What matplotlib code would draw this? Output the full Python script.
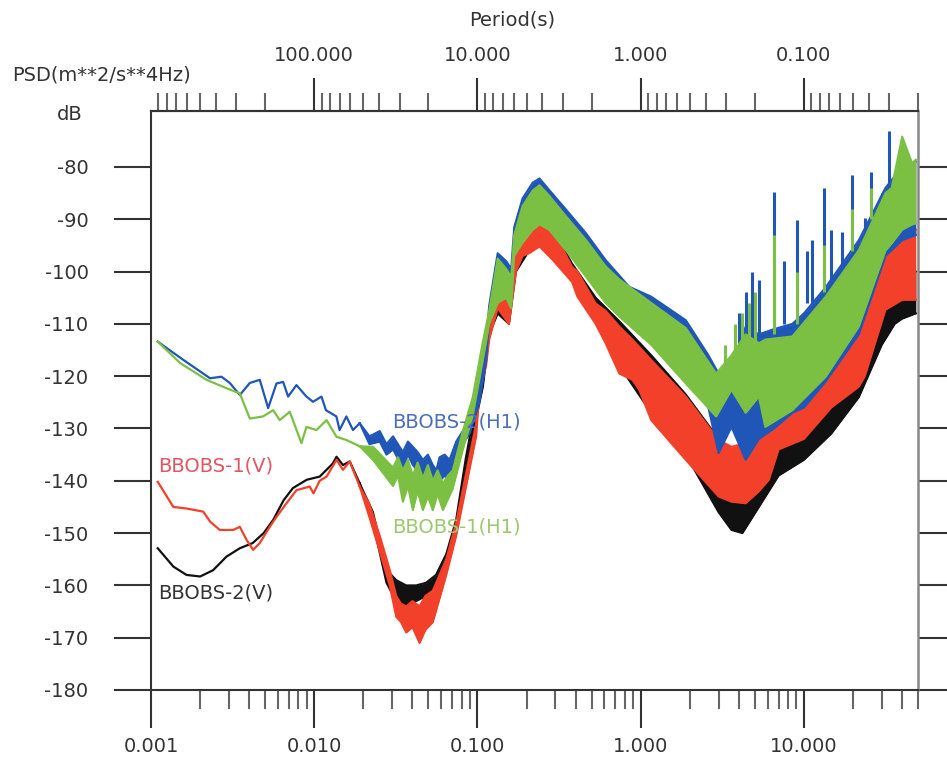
import numpy as np
import matplotlib.pyplot as plt
from matplotlib.ticker import LogLocator, NullFormatter, FixedLocator, FixedFormatter

# BBOBS-2(V)  (black)
v2_line_f = [0.0011, 0.00137, 0.00165, 0.0020, 0.0024, 0.0029, 0.0035, 0.0042, 0.0049, 0.0056,
             0.0065, 0.0074, 0.0090, 0.0108, 0.0130, 0.0137, 0.0150, 0.0165, 0.0190]
v2_line_db = [-152.9, -156.4, -158.0, -158.3, -157.1, -154.5, -152.9, -151.9, -150.0, -147.5,
              -143.7, -141.4, -139.8, -139.2, -136.7, -135.4, -137.0, -136.3, -140.5]
v2_band_f = [0.0190, 0.0229, 0.0277, 0.0318, 0.0366, 0.0421, 0.0484, 0.0557, 0.0644, 0.074,
             0.085, 0.093, 0.108, 0.118, 0.133, 0.156, 0.172, 0.207, 0.24, 0.29,
             0.38, 0.53, 0.74, 1.16, 1.89, 3.0, 3.6, 4.2, 5.3, 7.0,
             10, 14.7, 21.7, 30, 36, 40, 48.5]
v2_band_lo = [-140.5, -148, -159.5, -163, -164, -163, -162, -160, -156, -150,
              -138, -131.5, -122, -112, -108, -110, -100, -96, -94.5, -96.5,
              -101, -109, -118, -127, -135, -146, -149.4, -150, -145, -139,
              -136, -131, -124, -114, -110, -109, -108]
v2_band_hi = [-140.5, -146, -157, -159, -160, -160, -159.5, -158, -154, -147.5,
              -135.5, -129, -119.5, -110, -104, -108, -95, -91, -90, -92,
              -98.5, -105, -109.5, -116, -123.5, -132, -134, -134, -132, -128,
              -123, -117, -110, -100, -99, -103, -100]

# BBOBS-1(V)  (red)
v1_line_f = [0.0011, 0.00137, 0.00165, 0.00209, 0.0023, 0.00264, 0.00319, 0.0035, 0.00385, 0.00422,
             0.00464, 0.00534, 0.00587, 0.00676, 0.00778, 0.00938, 0.0099, 0.0108, 0.0119, 0.0137,
             0.0150, 0.0165, 0.0190]
v1_line_db = [-140.2, -145.0, -145.3, -145.9, -147.8, -149.4, -149.4, -148.8, -151.3, -153.2,
              -151.9, -148.8, -146.9, -144.3, -141.8, -141.1, -142.4, -140.0, -139.2, -136.0,
              -137.9, -136.3, -141.1]
v1_band_f = [0.0190, 0.0218, 0.0252, 0.029, 0.0318, 0.034, 0.0366, 0.040, 0.0442, 0.048,
             0.0533, 0.0644, 0.0741, 0.0853, 0.0982, 0.1028, 0.113, 0.118, 0.133, 0.15,
             0.156, 0.172, 0.189, 0.207, 0.24, 0.29, 0.38, 0.41, 0.53, 0.61,
             0.74, 0.89, 0.98, 1.16, 1.89, 3.0, 3.6, 4.4, 5.3, 6.1,
             7.0, 10, 14.7, 21.7, 23.6, 31.6, 40, 48.5]
v1_band_lo = [-141.1, -147, -153.5, -160, -166, -167, -169, -168, -171, -168.5,
              -167, -158, -150.5, -141, -131.5, -123, -118, -113, -107, -109.3,
              -110, -100, -97, -96.5, -95.2, -97.8, -102, -104.8, -110, -113.7,
              -119.5, -120.7, -122.6, -128.4, -136, -143, -144, -144.3, -142, -139.8,
              -134, -132, -126, -122, -120, -107.3, -105.4, -105.4]
v1_band_hi = [-141.1, -144.5, -150.5, -157, -162, -163.5, -164, -163, -164, -162,
              -161, -155, -148, -138.5, -129, -119.5, -114, -110.5, -104.1, -105,
              -108, -94.6, -92, -90.8, -89.8, -92, -99.1, -100, -106.1, -107.5,
              -110.5, -113, -114.4, -116.9, -123.9, -132.2, -133.5, -132.8, -130, -128,
              -127, -123.3, -116.9, -108, -106.7, -96.5, -93, -92]

# BBOBS-2(H1)  (blue)
h2_line_f = [0.0011, 0.00158, 0.0023, 0.0027, 0.00304, 0.0035, 0.00403, 0.00464, 0.00522, 0.00587,
             0.00645, 0.00692, 0.00778, 0.00896, 0.00984, 0.01107, 0.0118, 0.01367, 0.0143, 0.01574,
             0.01727, 0.019]
h2_line_db = [-113.4, -116.9, -120.4, -120.1, -121.3, -123.6, -121.3, -120.7, -126.1, -121.4,
              -121.1, -123.9, -121.7, -123.9, -124.9, -123.9, -126.5, -127.7, -130.3, -127.7,
              -130.3, -129.0]
h2_band_f = [0.019, 0.0218, 0.0252, 0.0277, 0.0304, 0.0349, 0.0375, 0.0402, 0.043, 0.0463,
             0.0497, 0.0533, 0.056, 0.0586, 0.063, 0.0674, 0.0741, 0.0893, 0.1028, 0.113,
             0.118, 0.133, 0.15, 0.161, 0.168, 0.189, 0.218, 0.24, 0.275, 0.35,
             0.463, 0.61, 0.85, 1.16, 1.89, 2.6, 3.0, 3.6, 4.4, 5.3,
             6.56, 8.5, 10, 13.6, 21.7, 31.6, 40, 48.5]
h2_band_lo = [-129.0, -133, -132.5, -135, -134, -137.5, -135, -137, -138, -140,
              -138.5, -141, -141.5, -140, -139, -140, -135, -131, -125, -117,
              -109, -104, -104, -106, -96, -93, -91, -90, -91, -95,
              -100, -105, -106, -112, -119, -126, -134.7, -129.7, -136, -132,
              -130, -127, -126, -121, -112, -97, -94, -93]
h2_band_hi = [-129.0, -131.5, -130.5, -133, -131.5, -134.5, -132.5, -133.5, -134.5, -136,
              -135, -137, -138, -135.5, -135, -136, -132.5, -128.5, -122.5, -113.5,
              -106.5, -96.5, -98, -99.5, -91.5, -86, -83, -82.2, -84.4, -88.2,
              -92.7, -97.8, -102.9, -104.8, -109.3, -116, -119.5, -119, -110.5, -112,
              -111, -110, -108, -103, -94, -84, -80, -79]
h2_spike_f = [4.0, 4.4, 4.8, 5.3, 6.56, 7.5, 9.1, 10.5, 11.2, 13.3, 14.7, 17.0, 19.8, 23.6, 25.8, 29.9, 33.1]
h2_spike_lo = [-114, -112, -112, -112, -110, -110, -108, -106, -106, -104, -102, -100, -98, -94, -92, -88, -86]
h2_spike_hi = [-108, -104, -100, -101.6, -84.7, -98, -90.1, -96, -93.9, -84.0, -92, -92.4, -81.5, -89.8,
               -80.9, -85, -73.2]

# BBOBS-1(H1)  (green)
h1_line_f = [0.0011, 0.00151, 0.00219, 0.0029, 0.0035, 0.00403, 0.00486, 0.0056, 0.00615, 0.00708,
             0.00835, 0.00896, 0.0103, 0.0119, 0.0137, 0.0157, 0.019]
h1_line_db = [-113.4, -117.5, -120.7, -122.3, -123.3, -128.1, -127.7, -126.5, -128.4, -126.8,
              -132.8, -129.7, -130.3, -128.4, -131.6, -132.2, -133.4]
h1_band_f = [0.019, 0.0229, 0.0264, 0.0304, 0.0326, 0.0349, 0.0375, 0.0402, 0.043, 0.0463,
             0.0497, 0.0533, 0.057, 0.0614, 0.066, 0.0706, 0.0814, 0.0936, 0.1078, 0.118,
             0.133, 0.15, 0.161, 0.168, 0.189, 0.218, 0.24, 0.275, 0.35, 0.463,
             0.61, 0.74, 1.16, 1.89, 2.9, 3.6, 4.4, 5.3, 5.8, 8.5,
             13.6, 21.7, 31.6, 34.5, 40, 46, 48.5]
h1_band_lo = [-133.4, -136, -138.5, -141, -139, -144, -141, -145.6, -142, -145.6,
              -143, -145.6, -142.5, -145.6, -143.5, -141.5, -134, -127.5, -117, -110,
              -106, -105, -107, -97, -94.5, -92, -91, -92, -96, -101,
              -106, -108.6, -114, -121.4, -127.7, -122.6, -127, -123.9, -129.7, -126.5,
              -120.1, -110.5, -96, -94.6, -92, -91, -90.8]
h1_band_hi = [-133.4, -133.5, -135.5, -137.5, -135.5, -138, -136, -139, -136.5, -139.5,
              -137, -140, -138, -140.5, -139, -138, -130.5, -124, -113.5, -107.5,
              -97.5, -99.5, -101, -93, -87.5, -84.5, -83.5, -85.5, -89.5, -94,
              -99, -101.5, -106, -110.8, -119.5, -116, -112, -113.7, -113, -112.4,
              -104.8, -95.9, -85, -84, -74.2, -79.3, -78.6]
h1_spike_f = [3.3, 3.8, 4.2, 4.6, 5.0, 6.56, 9.1, 13.3, 19.8, 25.8]
h1_spike_lo = [-120, -118, -114, -114, -114, -112, -110, -104, -96, -90]
h1_spike_hi = [-114, -110, -108, -106, -104, -93, -100, -95, -88, -84]

x_ticks = [0.001, 0.01, 0.1, 1, 10]
x_labels = ['0.001', '0.010', '0.100', '1.000', '10.000']
period_ticks = [100, 10, 1, 0.1]
period_labels = ['100.000', '10.000', '1.000', '0.100']
y_ticks = [-180, -170, -160, -150, -140, -130, -120, -110, -100, -90, -80]

black = '#111111'
red = '#f2402a'
blue = '#1f56b8'
green = '#7cc043'
axcol = '#333333'

fig = plt.figure(figsize=(9.47, 7.6), dpi=100)
ax = fig.add_axes([151 / 947, 1 - 690 / 760, (918 - 151) / 947, (690 - 111) / 760])


def band(f, lo, hi, color, z):
    ax.fill_between(f, lo, hi, color=color, lw=0, zorder=z)
    ax.plot(f, lo, color=color, lw=1.5, zorder=z)
    ax.plot(f, hi, color=color, lw=1.5, zorder=z)


ax.plot(v2_line_f, v2_line_db, color=black, lw=1.6, zorder=2)
band(v2_band_f, v2_band_lo, v2_band_hi, black, 2)
ax.plot(v1_line_f, v1_line_db, color=red, lw=1.6, zorder=3)
band(v1_band_f, v1_band_lo, v1_band_hi, red, 3)
ax.plot(h2_line_f, h2_line_db, color=blue, lw=1.6, zorder=4)
band(h2_band_f, h2_band_lo, h2_band_hi, blue, 4)
ax.vlines(h2_spike_f, h2_spike_lo, h2_spike_hi, color=blue, lw=2.2, zorder=4)
ax.plot(h1_line_f, h1_line_db, color=green, lw=1.6, zorder=5)
band(h1_band_f, h1_band_lo, h1_band_hi, green, 5)
ax.vlines(h1_spike_f, h1_spike_lo, h1_spike_hi, color=green, lw=2.2, zorder=5)

# curve labels
ax.text(0.0302, -128.8, 'BBOBS-2(H1)', color='#4a6fb8', fontsize=14, va='center', zorder=6)
ax.text(0.0302, -148.8, 'BBOBS-1(H1)', color='#9cc870', fontsize=14, va='center', zorder=6)
ax.text(0.00111, -137.2, 'BBOBS-1(V)', color='#e25560', fontsize=14, va='center', zorder=6)
ax.text(0.00111, -161.5, 'BBOBS-2(V)', color='#333333', fontsize=14, va='center', zorder=6)

ax.set_xscale('log')
ax.set_xlim(0.001, 50)
ax.set_ylim(-180, -69.3)

ax.xaxis.set_major_locator(FixedLocator(x_ticks))
ax.xaxis.set_major_formatter(FixedFormatter(x_labels))
ax.xaxis.set_minor_locator(LogLocator(base=10, subs=np.arange(2, 10)))
ax.xaxis.set_minor_formatter(NullFormatter())
ax.set_yticks(y_ticks)
ax.set_yticklabels([str(v) for v in y_ticks])

ax.tick_params(axis='x', which='major', direction='out', length=27, width=1.5,
               color=axcol, labelsize=14, labelcolor=axcol, pad=7)
ax.tick_params(axis='x', which='minor', direction='out', length=14, width=1.5, color='#666666')
ax.tick_params(axis='y', which='major', direction='out', length=27, width=1.5,
               color=axcol, labelsize=14, labelcolor=axcol, pad=18, right=True)

for s in ['left', 'bottom', 'top']:
    ax.spines[s].set_color(axcol)
    ax.spines[s].set_linewidth(1.5)
ax.spines['right'].set_color('#888888')
ax.spines['right'].set_linewidth(1.8)


def inv(x):
    return 1.0 / np.maximum(np.asarray(x, dtype=float), 1e-12)


secax = ax.secondary_xaxis('top', functions=(inv, inv))
secax.xaxis.set_major_locator(FixedLocator(period_ticks))
secax.xaxis.set_major_formatter(FixedFormatter(period_labels))
secax.xaxis.set_minor_locator(LogLocator(base=10, subs=np.arange(2, 10)))
secax.xaxis.set_minor_formatter(NullFormatter())
secax.tick_params(axis='x', which='major', direction='out', length=24, width=1.5,
                  color=axcol, labelsize=14, labelcolor=axcol, pad=9)
secax.tick_params(axis='x', which='minor', direction='out', length=13, width=1.5, color='#666666')
secax.spines['top'].set_color(axcol)
secax.spines['top'].set_linewidth(1.5)

fig.text(12 / 947, 1 - 75 / 760, 'PSD(m**2/s**4Hz)', fontsize=14, color=axcol, ha='left', va='center')
fig.text(70 / 947, 1 - 115 / 760, 'dB', fontsize=14, color=axcol, ha='center', va='center')
fig.text(512 / 947, 1 - 20 / 760, 'Period(s)', fontsize=14, color=axcol, ha='center', va='center')

fig.savefig('out.png', dpi=100)
